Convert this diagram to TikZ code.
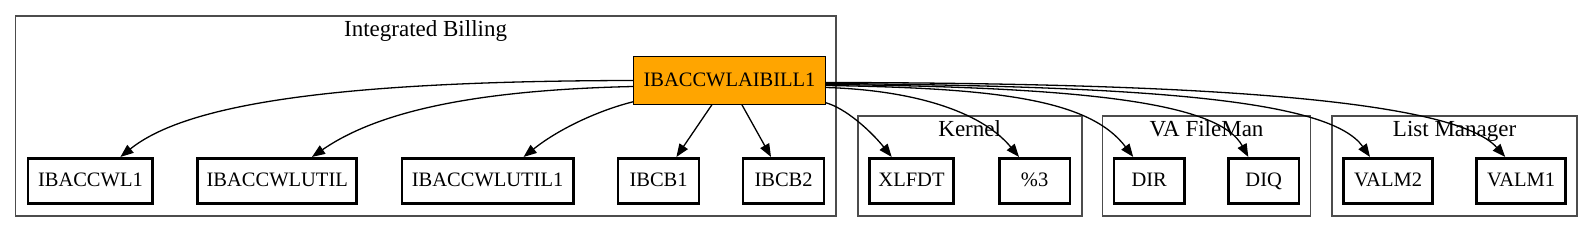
\documentclass[tikz,border=0pt]{standalone}
\usepackage{fontspec}
\setmainfont{Liberation Serif}
\usetikzlibrary{arrows.meta}
\begin{document}
\begin{tikzpicture}[x=1pt,y=-1pt,
  mod/.style={draw=black, line width=2.6pt, minimum height=45.5pt, inner sep=0pt, text height=14pt, text depth=3.6pt, font=\fontsize{20.5}{24}\selectfont},
  mainmod/.style={draw=black, fill={rgb,255:red,255;green,165;blue,0}, line width=1pt, minimum height=47.5pt, minimum width=191.5pt, inner sep=0pt, text height=14pt, text depth=2.6pt, font=\fontsize{20.5}{24}\selectfont},
  clus/.style={draw=black!70, line width=1.8pt},
  ctitle/.style={font=\fontsize{23}{27}\selectfont, inner sep=0pt, anchor=base},
  edge/.style={-{Triangle[length=13pt,width=10pt]}, line width=1.3pt}]
\useasboundingbox (0,0) rectangle (1593,232);
% clusters
\draw[clus] (15.5,15.7) rectangle (835.8,215.7);
\node[ctitle] (t1) at (425.6,36.7) {Integrated Billing};
\draw[clus] (857.7,116) rectangle (1081.7,215.7);
\node[ctitle] (t2) at (969.7,137) {Kernel};
\draw[clus] (1102.5,116) rectangle (1310.5,215.7);
\node[ctitle] (t3) at (1206.5,137) {VA FileMan};
\draw[clus] (1332,116) rectangle (1577.3,215.7);
\node[ctitle] (t4) at (1454.6,137) {List Manager};
% nodes
\node[mainmod] (m) at (729.5,80.5) {IBACCWLAIBILL1};
\node[mod, minimum width=124.5pt] (a1) at (90.4,181) {IBACCWL1};
\node[mod, minimum width=159pt] (a2) at (277.25,181) {IBACCWLUTIL};
\node[mod, minimum width=171.5pt] (a3) at (487.6,181) {IBACCWLUTIL1};
\node[mod, minimum width=81pt] (b1) at (658.6,181) {IBCB1};
\node[mod, minimum width=81pt] (b2) at (783.6,181) {IBCB2};
\node[mod, minimum width=84pt] (k1) at (911.5,181) {XLFDT};
\node[mod, minimum width=70.5pt] (k2) at (1034.6,181) {\%3};
\node[mod, minimum width=70.5pt] (d1) at (1149.2,181) {DIR};
\node[mod, minimum width=70.5pt] (d2) at (1263.7,181) {DIQ};
\node[mod, minimum width=89pt] (v2) at (1388,181) {VALM2};
\node[mod, minimum width=89pt] (v1) at (1521.2,181) {VALM1};
% edges
\draw[edge] (m.west) .. controls (330,81) and (185,105) .. ([xshift=30pt]a1.north);
\draw[edge] ([yshift=-6pt]m.west) .. controls (480,90) and (380,110) .. ([xshift=34.75pt]a2.north);
\draw[edge] ([yshift=3pt]m.south west) .. controls (600,110) and (560,128) .. ([xshift=36pt]a3.north);
\draw[edge] ([xshift=-17.6pt]m.south) -- ([xshift=17.8pt]b1.north);
\draw[edge] ([xshift=12.4pt]m.south) -- ([xshift=-12.6pt]b2.north);
\draw[edge] ([yshift=2pt]m.south east) .. controls (845,108) and (870,130) .. ([xshift=-19.8pt]k1.north);
\draw[edge] ([yshift=-7pt]m.east) .. controls (910,90) and (980,110) .. ([xshift=-15.6pt]k2.north);
\draw[edge] ([yshift=-5pt]m.east) .. controls (1000,88) and (1090,100) .. ([xshift=-16pt]d1.north);
\draw[edge] ([yshift=-4pt]m.east) .. controls (1100,87) and (1220,105) .. ([xshift=-15.4pt]d2.north);
\draw[edge] ([yshift=-3pt]m.east) .. controls (1150,86) and (1330,100) .. ([xshift=-18pt]v2.north);
\draw[edge] ([yshift=-2pt]m.east) .. controls (1150,83) and (1450,95) .. ([xshift=-16pt]v1.north);
\end{tikzpicture}
\end{document}
